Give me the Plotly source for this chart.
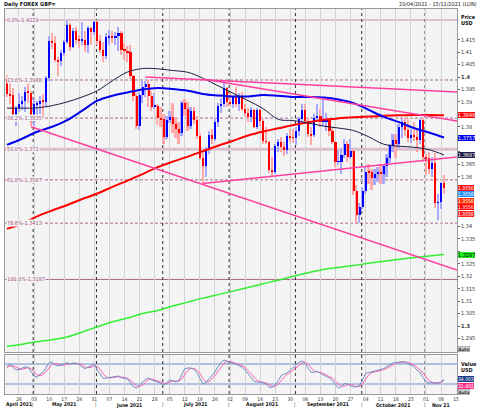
import numpy as np
import pandas as pd
import plotly.graph_objects as go

FONT = "Liberation Sans Narrow, DejaVu Sans Condensed, Liberation Sans, Arial, sans-serif"

# ---------------- data ----------------
dates = pd.bdate_range("2021-04-20", "2021-11-15")   # trading-day calendar of the x axis

opens = [1.3990, 1.3930, 1.3926, 1.3834, 1.3875, 1.3890, 1.3903, 1.3941, 1.3936,
         1.3818, 1.3890, 1.3892, 1.3905, 1.3900, 1.3995, 1.4145, 1.4138, 1.4070, 1.4063, 1.4095,
         1.4140, 1.4210, 1.4120, 1.4185, 1.4150, 1.4148, 1.4150, 1.4130, 1.4195, 1.4180,
         1.4220, 1.4145, 1.4110, 1.4085, 1.4160, 1.4165, 1.4160, 1.4165, 1.4175, 1.4110, 1.4105,
         1.4100, 1.4005, 1.3925, 1.3805, 1.3928, 1.3960, 1.3970, 1.3925, 1.3880, 1.3885, 1.3835,
         1.3830, 1.3760, 1.3829, 1.3838, 1.3810, 1.3790, 1.3777, 1.3894, 1.3871, 1.3802, 1.3862,
         1.3827, 1.3763, 1.3676, 1.3641, 1.3711, 1.3769, 1.3753, 1.3820, 1.3884, 1.3890, 1.3957,
         1.3900, 1.3890, 1.3922, 1.3891, 1.3923, 1.3873, 1.3855, 1.3840, 1.3868, 1.3800, 1.3868,
         1.3824, 1.3742, 1.3740, 1.3627, 1.3620, 1.3722, 1.3737, 1.3719, 1.3705, 1.3764, 1.3758,
         1.3756, 1.3782, 1.3833, 1.3866, 1.3824, 1.3770, 1.3767, 1.3837, 1.3842, 1.3821, 1.3823,
         1.3827, 1.3782, 1.3739, 1.3660, 1.3660, 1.3685, 1.3730, 1.3677, 1.3702, 1.3543, 1.3444,
         1.3476, 1.3541, 1.3619, 1.3617, 1.3593, 1.3612, 1.3619, 1.3612, 1.3641, 1.3675, 1.3721,
         1.3749, 1.3731, 1.3800, 1.3821, 1.3786, 1.3754, 1.3768, 1.3760, 1.3746, 1.3828,
         1.3678, 1.3673, 1.3630, 1.3654, 1.3495, 1.3497, 1.3576]
highs = [1.4009, 1.3980, 1.3957, 1.3883, 1.3935, 1.3925, 1.3960, 1.3975, 1.3942,
         1.3910, 1.3903, 1.3925, 1.3930, 1.4005, 1.4166, 1.4176, 1.4165, 1.4080, 1.4108, 1.4150,
         1.4228, 1.4215, 1.4198, 1.4200, 1.4168, 1.4220, 1.4184, 1.4205, 1.4200, 1.4225,
         1.4229, 1.4170, 1.4140, 1.4175, 1.4188, 1.4185, 1.4180, 1.4200, 1.4185, 1.4135, 1.4125,
         1.4130, 1.4010, 1.3935, 1.3940, 1.3985, 1.3985, 1.3988, 1.3945, 1.3935, 1.3890, 1.3880,
         1.3850, 1.3845, 1.3865, 1.3895, 1.3835, 1.3820, 1.3905, 1.3910, 1.3900, 1.3880, 1.3880,
         1.3845, 1.3775, 1.3695, 1.3720, 1.3785, 1.3790, 1.3830, 1.3895, 1.3915, 1.3983, 1.3960,
         1.3935, 1.3925, 1.3960, 1.3935, 1.3940, 1.3890, 1.3875, 1.3878, 1.3870, 1.3875, 1.3870,
         1.3830, 1.3798, 1.3745, 1.3680, 1.3730, 1.3750, 1.3760, 1.3740, 1.3775, 1.3790, 1.3790,
         1.3800, 1.3840, 1.3890, 1.3890, 1.3835, 1.3800, 1.3850, 1.3890, 1.3870, 1.3912, 1.3855,
         1.3835, 1.3800, 1.3745, 1.3705, 1.3710, 1.3750, 1.3745, 1.3750, 1.3710, 1.3565, 1.3495,
         1.3560, 1.3640, 1.3650, 1.3630, 1.3630, 1.3640, 1.3650, 1.3650, 1.3690, 1.3730, 1.3770,
         1.3770, 1.3810, 1.3830, 1.3834, 1.3830, 1.3790, 1.3820, 1.3790, 1.3830, 1.3834,
         1.3690, 1.3700, 1.3680, 1.3695, 1.3530, 1.3580, 1.3607]
lows = [1.3918, 1.3893, 1.3825, 1.3805, 1.3858, 1.3867, 1.3858, 1.3897, 1.3802,
        1.3805, 1.3823, 1.3853, 1.3835, 1.3878, 1.3985, 1.4113, 1.4060, 1.4006, 1.4045, 1.4085,
        1.4132, 1.4105, 1.4115, 1.4133, 1.4115, 1.4130, 1.4100, 1.4095, 1.4130, 1.4170,
        1.4130, 1.4096, 1.4060, 1.4072, 1.4130, 1.4135, 1.4130, 1.4105, 1.4090, 1.4070, 1.4060,
        1.3990, 1.3905, 1.3790, 1.3787, 1.3895, 1.3920, 1.3880, 1.3865, 1.3870, 1.3808, 1.3800,
        1.3732, 1.3750, 1.3815, 1.3775, 1.3755, 1.3730, 1.3765, 1.3845, 1.3785, 1.3790, 1.3810,
        1.3750, 1.3665, 1.3572, 1.3600, 1.3690, 1.3730, 1.3745, 1.3800, 1.3855, 1.3880, 1.3880,
        1.3885, 1.3875, 1.3880, 1.3865, 1.3865, 1.3840, 1.3820, 1.3820, 1.3795, 1.3790, 1.3805,
        1.3730, 1.3730, 1.3615, 1.3601, 1.3610, 1.3700, 1.3700, 1.3683, 1.3690, 1.3740, 1.3735,
        1.3725, 1.3765, 1.3815, 1.3815, 1.3760, 1.3725, 1.3760, 1.3820, 1.3800, 1.3805, 1.3785,
        1.3765, 1.3730, 1.3640, 1.3645, 1.3610, 1.3675, 1.3660, 1.3670, 1.3525, 1.3415, 1.3412,
        1.3465, 1.3530, 1.3570, 1.3545, 1.3565, 1.3580, 1.3570, 1.3570, 1.3600, 1.3655, 1.3700,
        1.3675, 1.3715, 1.3755, 1.3765, 1.3740, 1.3735, 1.3745, 1.3700, 1.3730, 1.3660,
        1.3605, 1.3610, 1.3600, 1.3475, 1.3424, 1.3470, 1.3530]
closes = [1.3930, 1.3926, 1.3834, 1.3875, 1.3890, 1.3903, 1.3941, 1.3936, 1.3818,
          1.3890, 1.3892, 1.3905, 1.3900, 1.3995, 1.4145, 1.4138, 1.4070, 1.4063, 1.4095, 1.4140,
          1.4210, 1.4120, 1.4185, 1.4150, 1.4148, 1.4150, 1.4130, 1.4195, 1.4180, 1.4220,
          1.4145, 1.4110, 1.4085, 1.4160, 1.4165, 1.4160, 1.4165, 1.4175, 1.4110, 1.4105, 1.4100,
          1.4005, 1.3925, 1.3805, 1.3928, 1.3960, 1.3970, 1.3925, 1.3880, 1.3885, 1.3835, 1.3830,
          1.3760, 1.3829, 1.3838, 1.3810, 1.3790, 1.3777, 1.3894, 1.3871, 1.3802, 1.3862, 1.3827,
          1.3763, 1.3676, 1.3641, 1.3711, 1.3769, 1.3753, 1.3820, 1.3884, 1.3890, 1.3957, 1.3900,
          1.3890, 1.3922, 1.3891, 1.3923, 1.3873, 1.3855, 1.3840, 1.3868, 1.3800, 1.3868, 1.3824,
          1.3742, 1.3740, 1.3627, 1.3620, 1.3722, 1.3737, 1.3719, 1.3705, 1.3764, 1.3758, 1.3756,
          1.3782, 1.3833, 1.3866, 1.3824, 1.3770, 1.3767, 1.3837, 1.3842, 1.3821, 1.3823, 1.3827,
          1.3782, 1.3739, 1.3660, 1.3660, 1.3685, 1.3730, 1.3677, 1.3702, 1.3543, 1.3444, 1.3476,
          1.3541, 1.3619, 1.3617, 1.3593, 1.3612, 1.3619, 1.3612, 1.3641, 1.3675, 1.3721, 1.3749,
          1.3731, 1.3800, 1.3821, 1.3786, 1.3754, 1.3768, 1.3760, 1.3746, 1.3828, 1.3678,
          1.3673, 1.3630, 1.3654, 1.3495, 1.3497, 1.3576, 1.3556]

# moving averages read every 5th trading day
ma_days = list(range(0, 146, 5))
ma_black = [1.3875, 1.3875, 1.3876, 1.3885, 1.3900, 1.3920, 1.3945, 1.3985, 1.4020, 1.4034,
            1.4033, 1.4026, 1.4019, 1.3995, 1.3965, 1.3935, 1.3905, 1.3873, 1.3830, 1.3825,
            1.3815, 1.3803, 1.3795, 1.3785, 1.3760, 1.3730, 1.3722, 1.3718, 1.3708, 1.3687]
ma_blue = [1.3727, 1.3752, 1.3780, 1.3800, 1.3827, 1.3865, 1.3905, 1.3925, 1.3938, 1.3950,
           1.3956, 1.3952, 1.3945, 1.3932, 1.3926, 1.3922, 1.3922, 1.3928, 1.3925, 1.3920,
           1.3920, 1.3918, 1.3910, 1.3895, 1.3868, 1.3840, 1.3819, 1.3795, 1.3777, 1.3757]
ma_red = [1.3390, 1.3410, 1.3440, 1.3464, 1.3486, 1.3510, 1.3532, 1.3559, 1.3584, 1.3610,
          1.3638, 1.3660, 1.3680, 1.3702, 1.3724, 1.3744, 1.3765, 1.3781, 1.3794, 1.3807,
          1.3818, 1.3828, 1.3834, 1.3838, 1.3841, 1.3844, 1.3846, 1.3847, 1.3847, 1.3846]
ma_green = [1.2918, 1.2927, 1.2937, 1.2945, 1.2956, 1.2976, 1.2997, 1.3017, 1.3032, 1.3050,
            1.3062, 1.3080, 1.3096, 1.3112, 1.3126, 1.3140, 1.3155, 1.3170, 1.3184, 1.3200,
            1.3214, 1.3227, 1.3235, 1.3243, 1.3252, 1.3260, 1.3268, 1.3275, 1.3281, 1.3287]

# slow stochastic (%K blue, %D pink)
stoch_k = [72, 80, 70, 62, 64, 67, 71, 70, 56, 45, 40, 50, 55, 68, 84, 86, 77, 74, 76, 80,
           84, 80, 83, 82, 78, 70, 66, 70, 74, 80, 62, 50, 36, 38, 40, 40, 42, 44, 38, 38,
           34, 22, 12, 8, 18, 26, 34, 38, 32, 30, 26, 22, 17, 24, 32, 30, 26, 30, 50, 66,
           68, 68, 64, 54, 38, 20, 24, 34, 44, 56, 72, 84, 92, 88, 84, 82, 80, 76, 70, 62,
           50, 40, 28, 26, 26, 24, 20, 10, 10, 18, 30, 45, 50, 54, 62, 70, 78, 86, 89, 80,
           66, 54, 56, 58, 52, 46, 42, 38, 30, 18, 8, 12, 22, 20, 14, 11, 12, 16, 36, 52,
           54, 56, 58, 60, 62, 66, 72, 78, 83, 84, 86, 87, 86, 82, 77, 72, 62, 56, 40, 27,
           23, 24, 22, 22, 26, 34.003]
stoch_d = [70, 74, 74, 71, 65, 64, 67, 69, 66, 57, 47, 45, 48, 58, 69, 79, 82, 79, 76, 77,
           80, 81, 82, 82, 81, 77, 71, 69, 70, 75, 72, 64, 49, 41, 38, 39, 41, 42, 41, 40,
           37, 31, 23, 14, 13, 17, 26, 33, 35, 33, 29, 26, 22, 21, 24, 29, 29, 29, 35, 49,
           61, 67, 67, 62, 52, 37, 27, 26, 34, 45, 57, 71, 83, 88, 88, 85, 82, 79, 75, 69,
           61, 51, 39, 31, 27, 25, 23, 18, 13, 13, 19, 31, 42, 50, 55, 62, 70, 78, 84, 85,
           78, 67, 59, 56, 55, 52, 47, 42, 37, 29, 19, 13, 14, 18, 19, 15, 12, 13, 21, 35,
           47, 54, 56, 58, 60, 63, 67, 72, 78, 82, 84, 86, 86, 85, 82, 77, 70, 63, 53, 41,
           30, 25, 23, 23, 24, 31.402]
stoch_levels = [80, 20]

# Fibonacci retracement levels
fib_pcts = ["0.0%", "23.6%", "38.2%", "50.0%", "61.8%", "78.6%", "100.0%"]
fib_values = [1.4229, 1.3988, 1.3835, 1.371, 1.3587, 1.3413, 1.3187]

# hand-drawn trend lines: (start day, start price) -> (end day, end price)
trend_days = {"lower": [8, 149.3], "top": [46, 149.3], "mid": [65, 149.3], "rise": [65, 149.3]}
trend_prices = {"lower": [1.3800, 1.3225], "top": [1.4000, 1.3940],
                "mid": [1.3992, 1.3823], "rise": [1.3572, 1.3679]}

price_ticks = [1.295, 1.3, 1.305, 1.31, 1.315, 1.32, 1.325, 1.33, 1.335, 1.34, 1.345, 1.35,
               1.355, 1.36, 1.365, 1.37, 1.375, 1.38, 1.385, 1.39, 1.395, 1.4, 1.405, 1.41, 1.415]
# labels hidden behind the value tags are left blank, as on the original
price_tick_labels = ["1.295", "<b>1.3</b>", "1.305", "1.31", "1.315", "1.32", "1.325", "",
                     "1.335", "1.34", "1.345", "", "", "1.36", "1.365", "", "",
                     "1.38", "", "1.39", "1.395", "<b>1.4</b>", "1.405", "1.41", "1.415"]
month_names = ["April 2021", "May 2021", "June 2021", "July 2021", "August 2021",
               "September 2021", "October 2021", "Nov 21"]

# last-value tags on the price scale
ma_tag_colors = [("1.3846", "#ff0000", "white"), ("1.3757", "#0000ee", "white"),
                 ("1.3687", "#1c1c44", "white"), ("1.3287", "#22ee22", "black")]
close_tag_colors = ["#ff1010", "#1e90ff", "#ff3000", "#ff0000", "#ff2020"]

# ---------------- derived ----------------
n = len(closes)
day_idx = np.arange(len(dates))
xc = day_idx[:n]
o, h, l, c = map(np.array, (opens, highs, lows, closes))
up = c >= o
XR = [-0.64, 149.3]
YR = [1.28956, 1.42731]
Y2R = [-10, 107]
mondays = [i for i, d in enumerate(dates) if d.weekday() == 0]
monday_text = [dates[i].strftime("%d") for i in mondays]
month_start = [i for i in range(len(dates)) if i == 0 or dates[i].month != dates[i - 1].month]
month_mid = []
for k, s in enumerate(month_start):
    e = month_start[k + 1] - 1 if k + 1 < len(month_start) else len(dates) - 1
    month_mid.append((s + e) / 2)

fig = go.Figure()

# candle wicks (light) and bodies
fig.add_trace(go.Bar(x=xc, y=h - l, base=l, width=0.55,
                     marker=dict(color=np.where(up, "#a9a9ff", "#ffa9a9"), line=dict(width=0)),
                     xaxis="x", yaxis="y", hoverinfo="skip"))
body = np.maximum(np.abs(c - o), 0.00025)
fig.add_trace(go.Bar(x=xc, y=body, base=np.minimum(o, c), width=0.7,
                     marker=dict(color=np.where(up, "#0000ff", "#ff0000"), line=dict(width=0)),
                     xaxis="x", yaxis="y", hoverinfo="skip"))

# moving averages
for vals, col, w in [(ma_green, "#33ee33", 1.5), (ma_red, "#ff0000", 2),
                     (ma_blue, "#0000ee", 2), (ma_black, "#1c1c44", 1)]:
    fig.add_trace(go.Scatter(x=ma_days, y=vals, mode="lines", line=dict(color=col, width=w, shape="spline"),
                             xaxis="x", yaxis="y", hoverinfo="skip"))

# trend lines
for key in trend_days:
    fig.add_trace(go.Scatter(x=trend_days[key], y=trend_prices[key], mode="lines",
                             line=dict(color="#ff3fa0", width=1.5), xaxis="x", yaxis="y",
                             hoverinfo="skip"))

# stochastic
fig.add_trace(go.Scatter(x=xc, y=stoch_d, mode="lines", line=dict(color="#ff5fae", width=1),
                         xaxis="x2", yaxis="y2", hoverinfo="skip"))
fig.add_trace(go.Scatter(x=xc, y=stoch_k, mode="lines", line=dict(color="#6f8fc4", width=1),
                         xaxis="x2", yaxis="y2", hoverinfo="skip"))

shapes = []
fib_style = [("solid", 1.2, "#c98aa9"), ("3px,2px", 1, "#a8668a"), ("3px,2px", 1, "#a8668a"),
             ("solid", 3, "#dcbfcf"), ("3px,2px", 1, "#a8668a"), ("3px,2px", 1, "#a8668a"),
             ("solid", 1, "#a8668a")]
for v, (dash, w, col) in zip(fib_values, fib_style):
    shapes.append(dict(type="line", xref="x domain", x0=0, x1=1, yref="y", y0=v, y1=v,
                       line=dict(color=col, width=w, dash=dash), layer="below"))
for lvl in stoch_levels:
    shapes.append(dict(type="line", xref="x2 domain", x0=0, x1=1, yref="y2", y0=lvl, y1=lvl,
                       line=dict(color="#6d8cc8", width=1), layer="below"))
for s in month_start[1:]:
    for yr in ("y domain", "y2 domain"):
        shapes.append(dict(type="line", xref="x" if yr == "y domain" else "x2", x0=s - 0.3, x1=s - 0.3,
                           yref=yr, y0=0, y1=1, line=dict(color="#303030", width=1, dash="dot"), layer="below"))

TAG = dict(showarrow=False, xanchor="left", yanchor="middle", xshift=1, borderpad=0, borderwidth=0)
ann = []
for p, v in zip(fib_pcts, fib_values):
    ann.append(dict(x=XR[0], xref="x", y=v, yref="y", text=f"{p}-{v}", showarrow=False,
                    xanchor="left", yanchor="middle", xshift=1, bgcolor="#f4f4f4", borderpad=0,
                    font=dict(family=FONT, size=5.5, color="#a04d7f")))
for txt, bg, fg in ma_tag_colors:
    ann.append(dict(x=1, xref="paper", y=float(txt), yref="y", text=txt, bgcolor=bg,
                    font=dict(family=FONT, size=5.5, color=fg), **TAG))
for k, bg in enumerate(close_tag_colors):
    ann.append(dict(x=1, xref="paper", y=closes[-1], yref="y", yshift=-6.6 * k, text=f"{closes[-1]:.4f}",
                    bgcolor=bg, font=dict(family=FONT, size=5, color="white"), **TAG))
ann.append(dict(x=1, xref="paper", y=stoch_k[-1], yref="y2", text=f"{stoch_k[-1]:.3f}", bgcolor="#1a3a8c",
                font=dict(family=FONT, size=5, color="white"), **TAG))
ann.append(dict(x=1, xref="paper", y=stoch_d[-1], yref="y2", yshift=-6, text=f"{stoch_d[-1]:.3f}",
                bgcolor="#ff2e8c", font=dict(family=FONT, size=5, color="white"), **TAG))
for t, yy in [("<b>Price</b>", 17), ("<b>USD</b>", 23)]:
    ann.append(dict(x=1, xref="paper", y=(394 - yy) / 385, yref="paper", text=t, showarrow=False,
                    xanchor="left", yanchor="middle", xshift=2, font=dict(family=FONT, size=5.5, color="#111")))
for t, yy in [("<b>Value</b>", 364), ("<b>USD</b>", 370)]:
    ann.append(dict(x=1, xref="paper", y=(394 - yy) / 385, yref="paper", text=t, showarrow=False,
                    xanchor="left", yanchor="middle", xshift=2, font=dict(family=FONT, size=5.5, color="#111")))
for yy in (349, 392):
    ann.append(dict(x=1, xref="paper", y=(394 - yy) / 385, yref="paper", text="<b>Auto</b>", showarrow=False,
                    xanchor="left", yanchor="middle", xshift=1, bgcolor="#d6d6d6", bordercolor="#888",
                    borderwidth=0.5, borderpad=0, font=dict(family=FONT, size=4.5, color="#333")))
ann.append(dict(x=0, xref="paper", y=(394 - 4) / 385, yref="paper", text="<b>Daily FOREX GBP=</b>",
                showarrow=False, xanchor="left", yanchor="middle", xshift=-3,
                font=dict(family=FONT, size=5.5, color="#111")))
ann.append(dict(x=1, xref="paper", y=(394 - 4) / 385, yref="paper",
                text="20/04/2021 - 15/11/2021 (LON)", showarrow=False, xanchor="right",
                yanchor="middle", xshift=22, font=dict(family=FONT, size=5.5, color="#222")))
MONTH_Y = (394 - 405) / 385
for name, mid in zip(month_names, month_mid):
    ann.append(dict(x=mid, xref="x2", y=MONTH_Y, yref="paper", text=f"<b>{name}</b>",
                    showarrow=False, xanchor="center", yanchor="middle",
                    font=dict(family=FONT, size=5, color="#111")))
for s in month_start[1:]:
    ann.append(dict(x=s - 0.3, xref="x2", y=MONTH_Y, yref="paper", text="|",
                    showarrow=False, xanchor="center", yanchor="middle",
                    font=dict(family=FONT, size=5, color="#333")))

axis_common = dict(range=XR, tickvals=mondays, showgrid=True, gridcolor="#d3d3d3", gridwidth=1,
                   zeroline=False, showline=True, linecolor="#9a9a9a", mirror=True)
fig.update_layout(
    width=480, height=408,
    margin=dict(l=5, r=23, t=9, b=14),
    paper_bgcolor="white", plot_bgcolor="#f4f4f4",
    showlegend=False, barmode="overlay", bargap=0,
    font=dict(family=FONT, size=6, color="#222"),
    xaxis=dict(domain=[0, 1], anchor="y", showticklabels=False, ticks="", **axis_common),
    xaxis2=dict(domain=[0, 1], anchor="y2", ticktext=monday_text, ticks="", ticklen=0,
                tickfont=dict(family=FONT, size=5, color="#333"), **axis_common),
    yaxis=dict(domain=[(394 - 352) / 385, 1], range=YR, side="right", tickvals=price_ticks,
               ticktext=price_tick_labels, tickfont=dict(family=FONT, size=5.5, color="#333"),
               showgrid=False, zeroline=False, ticks="outside", ticklen=2, tickcolor="#666",
               showline=True, linecolor="#9a9a9a", mirror=True),
    yaxis2=dict(domain=[0, (394 - 355) / 385], range=Y2R, side="right", showticklabels=False,
                showgrid=False, zeroline=False, showline=True, linecolor="#9a9a9a", mirror=True),
    shapes=shapes, annotations=ann,
)

fig.write_html("out.html", config={"displayModeBar": False},
               post_script="document.body.style.margin='0';document.body.style.padding='0';"
                           "document.documentElement.style.overflow='hidden';")
